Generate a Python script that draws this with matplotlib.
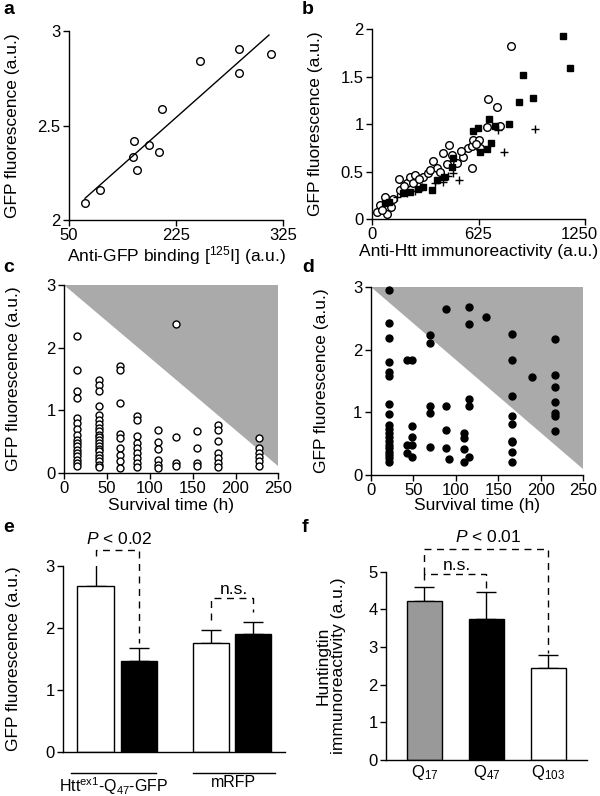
import numpy as np
import matplotlib.pyplot as plt
import matplotlib.transforms as mtransforms

plt.rcParams['font.family'] = ['Liberation Sans', 'DejaVu Sans']
plt.rcParams['mathtext.fontset'] = 'custom'
plt.rcParams['mathtext.rm'] = 'Liberation Sans'
plt.rcParams['mathtext.it'] = 'Liberation Sans:italic'
plt.rcParams['font.size'] = 12.5
plt.rcParams['xtick.labelsize'] = 12
plt.rcParams['ytick.labelsize'] = 12
plt.rcParams['axes.linewidth'] = 1.0

# ---- panel a ----
a_x = [70.6, 89.8, 133.0, 131.8, 137.8, 152.8, 165.6, 169.9, 218.0, 268.4, 268.4, 309.6]
a_y = [2.09, 2.157, 2.42, 2.335, 2.266, 2.397, 2.36, 2.587, 2.841, 2.903, 2.78, 2.877]
a_xticks = [50, 187.5, 325]
a_xticklabels = ['50', '225', '325']

# ---- panel b ----
b_circ_x = [31, 47, 76, 90, 121, 157, 164, 207, 223, 252, 297, 326, 360, 380, 415, 452,
            467, 497, 536, 565, 585, 589, 595, 626, 634, 673, 683, 732, 752, 817,
            58, 110, 185, 240, 275, 340, 400, 440, 520, 610]
b_circ_y = [0.074, 0.143, 0.235, 0.057, 0.207, 0.418, 0.306, 0.383, 0.44, 0.464, 0.447,
            0.488, 0.614, 0.536, 0.699, 0.78, 0.674, 0.588, 0.658, 0.745, 0.77, 0.534,
            0.83, 0.83, 0.745, 0.97, 1.265, 1.183, 0.98, 1.826,
            0.10, 0.13, 0.35, 0.38, 0.42, 0.52, 0.50, 0.58, 0.72, 0.79]
b_sq_x = [76, 102, 184, 223, 272, 301, 350, 380, 423, 468, 473, 591, 624, 688, 636, 675,
          700, 720, 802, 865, 888, 946, 1123, 1162]
b_sq_y = [0.165, 0.18, 0.277, 0.284, 0.319, 0.337, 0.31, 0.407, 0.445, 0.55, 0.64, 0.929,
          0.957, 1.052, 0.71, 0.74, 0.804, 0.98, 1.0, 1.236, 1.518, 1.28, 1.93, 1.587]
b_plus_x = [145, 203, 252, 291, 370, 419, 448, 478, 513, 741, 774, 958]
b_plus_y = [0.235, 0.27, 0.29, 0.34, 0.382, 0.394, 0.454, 0.481, 0.411, 0.94, 0.71, 0.945]

# ---- panel c ----
c_cols = {
    15: [2.18, 1.64, 1.30, 1.20, 0.87, 0.79, 0.70, 0.60, 0.52, 0.47, 0.42, 0.37, 0.32,
         0.27, 0.21, 0.16, 0.11],
    40: [1.48, 1.40, 1.30, 1.07, 0.92, 0.84, 0.78, 0.71, 0.66, 0.60, 0.57, 0.52, 0.47,
         0.43, 0.38, 0.34, 0.28, 0.23, 0.18, 0.12, 0.09],
    65: [1.71, 1.64, 1.12, 0.62, 0.55, 0.40, 0.28, 0.18, 0.07],
    85: [0.91, 0.84, 0.58, 0.47, 0.39, 0.31, 0.23, 0.15, 0.09],
    110: [0.68, 0.49, 0.38, 0.20, 0.13, 0.08],
    131: [2.37, 0.57, 0.16, 0.11],
    155: [0.67, 0.39, 0.15, 0.10],
    180: [0.76, 0.68, 0.51, 0.31, 0.23, 0.16, 0.09],
    227: [0.55, 0.39, 0.32, 0.25, 0.18, 0.10],
}
c_x = [k for k, v in c_cols.items() for _ in v]
c_y = [y for v in c_cols.values() for y in v]

# ---- panel d ----
d_x = ([21] * 19 + [43] * 3 + [49] * 5 + [70] * 5 + [88] * 4 + [92] + [110] * 4 + [116] * 5
       + [135] + [166] * 9 + [190] + [217] * 7)
d_y = ([2.95, 2.43, 2.19, 1.80, 1.64, 1.58, 1.13, 0.97, 0.80, 0.73, 0.67, 0.60, 0.55,
        0.48, 0.43, 0.37, 0.32, 0.27, 0.21]
       + [1.84, 0.48, 0.35]
       + [1.84, 0.78, 0.61, 0.48, 0.29]
       + [2.23, 2.11, 1.10, 0.99, 0.45]
       + [2.65, 1.10, 0.72, 0.43]
       + [0.25]
       + [0.67, 0.59, 0.41, 0.21]
       + [2.69, 2.41, 1.21, 1.10, 0.29]
       + [2.53]
       + [2.25, 1.84, 1.26, 0.95, 0.81, 0.55, 0.52, 0.36, 0.21]
       + [1.56]
       + [2.17, 1.60, 1.41, 1.16, 0.99, 0.94, 0.71])
shade_x = [0, 250, 250]
shade_y = [3, 3, 0.1]

# ---- panel e ----
e_pos = [0, 1.02, 2.69, 3.67]
e_vals = [2.68, 1.46, 1.76, 1.90]
e_err = [0.35, 0.22, 0.21, 0.19]
e_colors = ['white', 'black', 'white', 'black']
e_groups = ['Htt$^{\\mathrm{ex1}}$-Q$_{47}$-GFP', 'mRFP']

# ---- panel f ----
f_pos = [0, 1, 2]
f_vals = [4.22, 3.75, 2.45]
f_err = [0.38, 0.72, 0.35]
f_colors = ['#999999', 'black', 'white']
f_labels = ['Q$_{17}$', 'Q$_{47}$', 'Q$_{103}$']


def style(ax):
    ax.spines['top'].set_visible(False)
    ax.spines['right'].set_visible(False)
    ax.tick_params(direction='out', length=4, width=1, pad=2)


def bracket(ax, x0, x1, y, yl, yr):
    ax.plot([x0, x0, x1, x1], [yl, y, y, yr], color='k', lw=1, ls=(0, (5, 4)), clip_on=False)


fig = plt.figure(figsize=(6, 7.96), dpi=100)
W, H = 600, 796


def axes_px(l, t, r, b):
    return fig.add_axes([l / W, 1 - b / H, (r - l) / W, (b - t) / H])


# a
ax = axes_px(69, 31, 283, 220)
style(ax)
ax.plot(a_x, a_y, 'o', mfc='white', mec='k', ms=5.5, mew=1)
coef = np.polyfit(a_x, a_y, 1)
lx = np.array([min(a_x), 307])
ax.plot(lx, np.polyval(coef, lx), 'k-', lw=1)
ax.set_xlim(50, 325)
ax.set_ylim(2, 3)
ax.set_xticks(a_xticks)
ax.set_xticklabels(a_xticklabels)
ax.set_yticks([2, 2.5, 3])
ax.set_yticklabels(['2', '2.5', '3'])
ax.set_xlabel('Anti-GFP binding [$^{125}$I] (a.u.)')
ax.set_ylabel('GFP fluorescence (a.u.)')
ax.xaxis.set_label_coords(0.5, -0.125)
ax.yaxis.set_label_coords(-0.23, 0.5)

# b
ax = axes_px(372, 29.3, 585, 219)
style(ax)
ax.plot(b_circ_x, b_circ_y, 'o', mfc='white', mec='k', ms=5.5, mew=1, clip_on=False)
ax.plot(b_sq_x, b_sq_y, 's', color='k', ms=4.5, clip_on=False)
ax.plot(b_plus_x, b_plus_y, '+', color='k', ms=6, mew=1, clip_on=False)
ax.set_xlim(0, 1250)
ax.set_ylim(0, 2)
ax.set_xticks([0, 625, 1250])
ax.set_yticks([0, 0.5, 1, 1.5, 2])
ax.set_yticklabels(['0', '0.5', '1', '1.5', '2'])
last = ax.get_xticklabels()[-1]
last.set_transform(last.get_transform() + mtransforms.ScaledTranslation(-6 / 100, 0, fig.dpi_scale_trans))
ax.set_xlabel('Anti-Htt immunoreactivity (a.u.)')
ax.set_ylabel('GFP fluorescence (a.u.)')
ax.xaxis.set_label_coords(0.5, -0.13)
ax.yaxis.set_label_coords(-0.23, 0.5)

# c
ax = axes_px(64.3, 285, 278.3, 472.7)
style(ax)
ax.fill(shade_x, shade_y, color='#aaaaaa', lw=0)
ax.plot(c_x, c_y, 'o', mfc='white', mec='k', ms=5, mew=1, clip_on=False)
ax.set_xlim(0, 250)
ax.set_ylim(0, 3)
ax.set_xticks([0, 50, 100, 150, 200, 250])
ax.set_yticks([0, 1, 2, 3])
ax.set_xlabel('Survival time (h)')
ax.set_ylabel('GFP fluorescence (a.u.)')
ax.xaxis.set_label_coords(0.5, -0.135)
ax.yaxis.set_label_coords(-0.2, 0.5)

# d
ax = axes_px(370.7, 287.3, 583.3, 475)
style(ax)
ax.fill(shade_x, shade_y, color='#aaaaaa', lw=0)
ax.plot(d_x, d_y, 'o', color='k', ms=5, clip_on=False)
ax.set_xlim(0, 250)
ax.set_ylim(0, 3)
ax.set_xticks([0, 50, 100, 150, 200, 250])
ax.set_yticks([0, 1, 2, 3])
ax.set_xlabel('Survival time (h)')
ax.set_ylabel('GFP fluorescence (a.u.)')
ax.xaxis.set_label_coords(0.5, -0.125)
ax.yaxis.set_label_coords(-0.195, 0.5)

# e
ax = axes_px(63.3, 565.7, 285, 751.7)
style(ax)
ax.bar(e_pos, e_vals, width=0.84, color=e_colors, edgecolor='k', lw=1, zorder=2)
ax.errorbar(e_pos, e_vals, yerr=[np.zeros(4), e_err], fmt='none', ecolor='k',
            elinewidth=1, capsize=7, capthick=1, zorder=1)
ax.set_xlim(-0.75, 4.41)
ax.set_ylim(0, 3)
ax.set_yticks([0, 1, 2, 3])
ax.set_xticks([])
ax.set_ylabel('GFP fluorescence (a.u.)')
ax.yaxis.set_label_coords(-0.19, 0.5)
bracket(ax, e_pos[0], e_pos[1], 3.25, 3.15, 1.75)
ax.text(0.55, 3.43, '$\\mathit{P}$ < 0.02', ha='center', va='center')
bracket(ax, e_pos[2], e_pos[3], 2.48, 2.12, 2.26)
ax.text(3.22, 2.61, 'n.s.', ha='center', va='center')
trans = ax.get_xaxis_transform()
for (x0, x1), lab in zip([(-0.57, 1.4), (2.27, 4.17)], e_groups):
    ax.plot([x0, x1], [-0.112, -0.112], color='k', lw=1, transform=trans, clip_on=False)
    ax.text((x0 + x1) / 2, -0.127, lab, ha='center', va='top', transform=trans, fontsize=11.5)

# f
ax = axes_px(386, 571.7, 586.7, 760)
style(ax)
ax.bar(f_pos, f_vals, width=0.57, color=f_colors, edgecolor='k', lw=1, zorder=2)
ax.errorbar(f_pos, f_vals, yerr=[np.zeros(3), f_err], fmt='none', ecolor='k',
            elinewidth=1, capsize=7, capthick=1, zorder=1)
ax.set_xlim(-0.62, 2.62)
ax.set_ylim(0, 5)
ax.set_yticks([0, 1, 2, 3, 4, 5])
ax.set_xticks(f_pos)
ax.set_xticklabels(f_labels)
ax.tick_params(axis='x', length=0, pad=2)
ax.set_ylabel('Huntingtin\nimmunoreactivity (a.u.)', linespacing=1.05)
ax.yaxis.set_label_coords(-0.2, 0.5)
bracket(ax, f_pos[0], f_pos[1], 4.93, 4.78, 4.5)
ax.text(0.52, 5.17, 'n.s.', ha='center', va='center')
bracket(ax, f_pos[0], f_pos[2], 5.61, 4.93, 2.83)
ax.text(1.03, 5.92, '$\\mathit{P}$ < 0.01', ha='center', va='center')

for lab, x, y in [('a', 3, 9), ('b', 302, 9), ('c', 3, 268), ('d', 302, 268),
                  ('e', 3, 528), ('f', 302, 527)]:
    fig.text(x / W, 1 - y / H, lab, fontsize=14, fontweight='bold', va='center', ha='left')

fig.savefig('out.png', dpi=100)
